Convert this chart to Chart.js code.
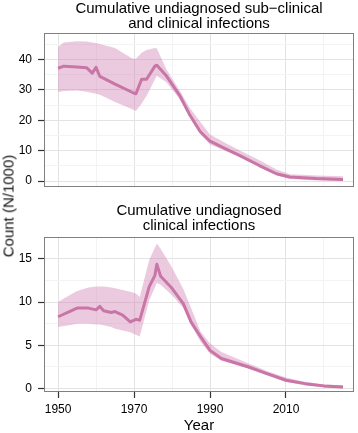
<!DOCTYPE html>
<html lang="en">
<head>
<meta charset="UTF-8">
<title>Cumulative undiagnosed infections</title>
<script src="https://cdn.jsdelivr.net/npm/chart.js"></script>
<style>
  body { margin: 0; background: #fff; font-family: "Liberation Sans", Arial, sans-serif; }
  #wrap { position: relative; width: 358px; height: 433px; overflow: hidden; }
  canvas { position: absolute; left: 0; }
  #ylab { position: absolute; left: 8px; top: 206px; transform: translate(-50%, -50%) rotate(-90deg);
          font-size: 15px; font-weight: normal; white-space: nowrap; color: #111; }
</style>
</head>
<body>
<div id="wrap">
  <canvas id="topChart" width="358" height="200" style="top:0"></canvas>
  <canvas id="bottomChart" width="358" height="233" style="top:200px"></canvas>
  <div id="ylab">Count (N/1000)</div>
</div>
<script>
// sub-clinical + clinical (top panel)
const allYears = [1950, 1951.5, 1955, 1957.5, 1959, 1960, 1961, 1965, 1969.5, 1970.5, 1972, 1973.3, 1975.5, 1976,
                  1978.5, 1982, 1984.7, 1987.4, 1990, 1994.4, 1998, 2003, 2007.5, 2011, 2018, 2025];
const allMean  = [37.1, 37.8, 37.5, 37.3, 35.5, 37.4, 34.4, 31.9, 29.2, 28.7, 33.5, 33.5, 37.8, 38.1,
                  34.6, 28.2, 21.7, 16.3, 13.1, 10.4, 8.3, 5.1, 2.4, 1.3, 0.8, 0.5];
const allUpper = [44.1, 45.6, 46.0, 45.9, 45.6, 45.4, 45.1, 43.8, 40.3, 40.2, 42.2, 43.1, 43.8, 43.6,
                  36.8, 29.8, 24.0, 19.5, 15.3, 12.3, 10.0, 6.8, 3.8, 2.2, 1.8, 1.6];
const allLower = [29.3, 29.6, 29.8, 29.4, 29.0, 28.7, 28.4, 26.0, 23.6, 23.0, 25.5, 28.0, 33.5, 34.6,
                  32.5, 27.0, 21.0, 15.5, 12.0, 9.7, 8.0, 4.5, 1.9, 0.7, 0.2, 0.0];

// clinical only (bottom panel)
const clinYears = [1950, 1953, 1955, 1958, 1960, 1961, 1962, 1964, 1965, 1967, 1969, 1970.5, 1971.5, 1974, 1975.5,
                   1976, 1977, 1980, 1983, 1985, 1987.5, 1990, 1993, 2000, 2005, 2010, 2015, 2020, 2025];
const clinMean  = [8.3, 8.9, 9.3, 9.3, 9.1, 9.5, 9.0, 8.8, 8.9, 8.5, 7.7, 8.0, 7.9, 11.8, 13.1,
                   14.4, 13.0, 11.6, 9.8, 7.7, 6.0, 4.4, 3.45, 2.5, 1.7, 0.93, 0.54, 0.28, 0.16];
const clinUpper = [10.0, 10.8, 11.3, 11.7, 11.8, 11.8, 11.8, 11.7, 11.6, 11.4, 11.2, 11.0, 10.6, 14.9, 16.3,
                   16.8, 16.2, 14.0, 11.5, 9.3, 6.6, 5.2, 4.2, 2.9, 2.0, 1.24, 0.75, 0.45, 0.35];
const clinLower = [7.1, 7.3, 7.5, 7.5, 7.4, 7.4, 7.3, 7.1, 6.9, 6.7, 6.5, 6.2, 6.0, 10.2, 11.7,
                   12.2, 12.0, 10.8, 9.3, 7.4, 5.4, 4.0, 3.2, 2.3, 1.5, 0.73, 0.35, 0.1, 0.0];

const yearTicks = [1950, 1970, 1990, 2010];
const allTicks = [0, 10, 20, 30, 40];
const clinTicks = [0, 5, 10, 15];

const lineColor = '#c46d9e';
const bandColor = 'rgba(208, 128, 178, 0.42)';
const majorGrid = '#e3e3e3';
const minorGrid = '#f3f3f3';
const FONT = '"Liberation Sans", Arial, sans-serif';

// major ticks plus a minor one halfway between (ggplot style grid)
function withMinor(major) {
  const step = major[1] - major[0];
  const out = [];
  major.forEach(v => {
    out.push({ value: v });
    out.push({ value: v + step / 2, minor: true });
  });
  return out;
}

const pts = (xs, ys) => xs.map((x, i) => ({ x: x, y: ys[i] }));

const panelFrame = {
  id: 'panelFrame',
  afterDatasetsDraw(chart) {
    const a = chart.chartArea, c = chart.ctx;
    c.save();
    c.strokeStyle = '#808080';
    c.lineWidth = 1;
    c.strokeRect(Math.round(a.left) + 0.5, Math.round(a.top) + 0.5,
                 Math.round(a.right - a.left) - 1, Math.round(a.bottom - a.top) - 1);
    c.restore();
  }
};

function makeChart(id, cfg) {
  const grid = {
    color: ctx => (ctx.tick && ctx.tick.minor) ? minorGrid : majorGrid,
    tickColor: ctx => (ctx.tick && ctx.tick.minor) ? 'rgba(0,0,0,0)' : '#333',
    tickWidth: 1.2,
    tickLength: 6,
    lineWidth: 1
  };
  return new Chart(document.getElementById(id), {
    type: 'line',
    data: {
      datasets: [
        { data: pts(cfg.years, cfg.upper), borderWidth: 0, pointRadius: 0, fill: false },
        { data: pts(cfg.years, cfg.lower), borderWidth: 0, pointRadius: 0, fill: '-1', backgroundColor: bandColor },
        { data: pts(cfg.years, cfg.mean), borderColor: lineColor, borderWidth: 3, pointRadius: 0, fill: false,
          borderJoinStyle: 'round' }
      ]
    },
    options: {
      responsive: false,
      animation: false,
      devicePixelRatio: 1,
      layout: { padding: { left: 0, right: 4, top: 0, bottom: 0 } },
      plugins: {
        legend: { display: false },
        tooltip: { enabled: false },
        title: {
          display: true, text: cfg.title, color: '#000', fullSize: false,
          font: { family: FONT, size: 15, weight: 'normal', lineHeight: 1.0 },
          padding: cfg.titlePad
        }
      },
      scales: {
        x: {
          type: 'linear', min: 1946.3, max: 2027.9,
          afterBuildTicks: s => { s.ticks = withMinor(yearTicks); },
          afterFit: s => { s.height = cfg.xHeight; },
          grid: Object.assign({}, grid, { drawTicks: cfg.showX }),
          border: { display: false },
          ticks: {
            display: cfg.showX, autoSkip: false, maxRotation: 0, padding: 4, color: '#000',
            font: { family: FONT, size: 12 },
            callback: (v, i, t) => t[i].minor ? '' : String(v)
          },
          title: {
            display: cfg.showX, text: 'Year', color: '#000',
            font: { family: FONT, size: 15, lineHeight: 1.0 }, padding: { top: 0, bottom: 0 }
          }
        },
        y: {
          min: cfg.yMin, max: cfg.yMax,
          afterBuildTicks: s => { s.ticks = withMinor(cfg.yTicks); },
          afterFit: s => { s.width = 44; },
          grid: grid,
          border: { display: false },
          ticks: {
            autoSkip: false, padding: 6, color: '#000',
            font: { family: FONT, size: 12 },
            callback: (v, i, t) => t[i].minor ? '' : String(v)
          }
        }
      }
    },
    plugins: [panelFrame]
  });
}

makeChart('topChart', {
  years: allYears, mean: allMean, upper: allUpper, lower: allLower,
  title: ['Cumulative undiagnosed sub\u2212clinical', 'and clinical infections'],
  titlePad: { top: 1, bottom: 2 },
  yMin: -1.9, yMax: 48.7, yTicks: allTicks,
  showX: false, xHeight: 10
});

makeChart('bottomChart', {
  years: clinYears, mean: clinMean, upper: clinUpper, lower: clinLower,
  title: ['Cumulative undiagnosed', 'clinical infections'],
  titlePad: { top: 3, bottom: 4 },
  yMin: -0.43, yMax: 17.55, yTicks: clinTicks,
  showX: true, xHeight: 41
});
</script>
</body>
</html>
